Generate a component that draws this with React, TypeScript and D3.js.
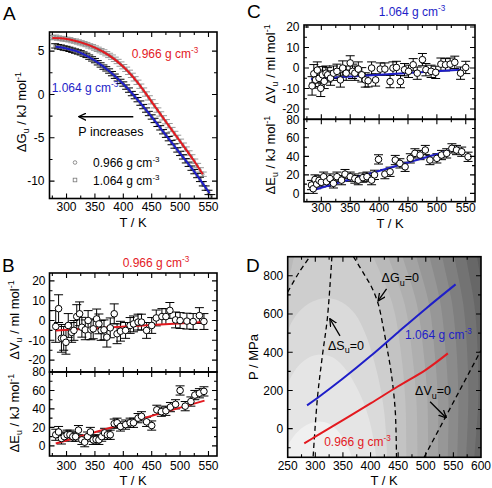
import React from "react";
import * as d3 from "d3";

const FONT = "'Liberation Sans', Arial, Helvetica, sans-serif";
const RED = "#e3191f";
const BLUE = "#1e1ec8";

// ---------------- Panel A : ΔGu vs T ----------------
const aRedT = [275,280,285,290,295,300,305,310,315,320,325,330,335,340,345,350,355,360,365,370,375,380,385,390,395,400,405,410,415,420,425,430,435,440,445,450,455,460,465,470,475,480,485,490,495,500,505,510,515,520,525,530,535,540];
const aRedG = [6.55,6.6,6.5,6.45,6.4,6.35,6.3,6.2,6.15,6.05,5.95,5.85,5.75,5.6,5.5,5.35,5.2,5.05,4.9,4.7,4.5,4.3,4.05,3.8,3.5,3.2,2.9,2.55,2.2,1.8,1.4,0.95,0.5,0.05,-0.4,-0.85,-1.3,-1.8,-2.25,-2.7,-3.15,-3.6,-4.05,-4.5,-4.95,-5.4,-5.85,-6.3,-6.75,-7.2,-7.7,-8.2,-8.7,-9.2];
const aBlueT = [280,285,290,295,300,305,310,315,320,325,330,335,340,345,350,355,360,365,370,375,380,385,390,395,400,405,410,415,420,425,430,435,440,445,450,455,460,465,470,475,480,485,490,495,500,505,510,515,520,525,530,535,540,545,550,555];
const aBlueG = [5.6,5.5,5.45,5.35,5.3,5.2,5.1,5.0,4.9,4.8,4.65,4.5,4.3,4.1,3.9,3.65,3.4,3.15,2.95,2.7,2.4,2.1,1.8,1.5,1.2,0.85,0.5,0.1,-0.25,-0.6,-1.0,-1.4,-1.8,-2.2,-2.6,-3.0,-3.45,-3.85,-4.3,-4.7,-5.1,-5.55,-5.95,-6.4,-6.8,-7.2,-7.65,-8.05,-8.5,-8.9,-9.35,-9.8,-10.3,-10.8,-11.3,-11.8];
const aErr = 0.25;
const aRedCurveT = [275,300,325,350,375,400,425,450,475,500,525,540];
const aRedCurveG = [6.5,6.4,6.0,5.4,4.5,3.2,1.4,-0.85,-3.15,-5.4,-7.7,-9.2];
const aBlueCurveT = [281,300,325,350,375,400,425,450,475,500,525,552];
const aBlueCurveG = [5.5,5.3,4.8,3.9,2.7,1.2,-0.6,-2.6,-4.7,-6.8,-8.9,-11.4];

// ---------------- Panel B : 0.966 g cm-3 ----------------
const bVT = [281,286,291,295,299,303,309,313,318,323,327,333,338,343,347,353,357,361,366,371,377,384,389,395,404,412,418,426,432,441,450,458,468,475,482,492,500,512,523,534,542];
const bVV = [-3,6,-9,-9,-11,-2.5,-6,-5,2,3.4,-3.4,-4.7,0,-4.7,-4.2,0.8,-1.7,-5,-4.7,-8.4,-3.7,3.4,-6.7,-5.4,-5,-2.5,-1.7,-0.8,-0.8,-5,-2.5,1.3,2,2,5.1,0.3,0,-0.3,-0.5,2.5,-0.5];
const bVErr = [8,7,7,6,6,6,5,5,6,6,5,5,5,5,5,5,5,5,5,5,5,5,5,5,4,4,4,4,4,4,4,4,4,4,4,4,4,4,4,4,4];
const bVLineT = [281,543];
const bVLineV = [-5,-0.8];
const bET = [281,286,291,296,301,306,311,316,321,327,332,337,342,347,352,357,362,367,372,377,384,389,395,404,412,418,426,432,441,450,459,467,475,483,492,500,509,519,526,534,542];
const bEE = [12,15,8,10,12,12,10,10,17,6.5,4,10,15,6.5,7,6.5,10,14,12,12,24,25,21,23,25,25,30,32,26,22,39,37,38,42,45,60,43,48,55,57,59];
const bEErr = [6,6,6,5,5,5,5,5,5,5,5,5,5,5,5,5,5,5,5,5,5,5,5,5,5,5,5,5,5,5,5,5,5,5,5,5,5,5,5,5,5];
const bELineT = [281,543];
const bELineE = [2.5,49];

// ---------------- Panel C : 1.064 g cm-3 ----------------
const cVT = [284,287,290,293,296,299,302,305,308,311,316,321,327,333,337,343,350,354,358,364,370,376,381,387,394,402,410,419,424,430,437,444,451,459,466,475,481,490,498,507,515,523,531,541,550];
const cVV = [-8.7,-2.8,-5.8,-1,-5,-9.9,-3.3,-6.5,-2.5,-3.3,-4.9,-2.5,-1.6,-5.8,0,-2.5,2.5,-1.6,-2.5,-0.5,-3.3,-5.8,-6.2,0,-5.8,-0.5,-0.5,-6.6,0,0.3,-6.6,-0.8,-1.6,1.6,-2.5,4.1,-0.8,-1.6,-2.1,1.9,1.6,1.9,2.8,-2.5,0.3];
const cVErr = [4.5,4.5,4,4,4,4,4,3.5,3.5,3.5,3.5,3.5,3.5,3.5,3.5,3.5,3.5,3.5,3.5,3.5,3.5,3.5,3,3,3,3,3,3,3,3,3,3,3,3,3,3,3,3,3,3,3,3,3,3,3];
const cVLineT = [282,541];
const cVLineV = [-5.4,-0.8];
const cET = [283,286,289,292,296,300,304,309,315,321,327,335,341,350,358,364,372,379,387,392,399,410,419,428,436,445,454,462,471,480,488,500,508,517,526,534,543,554];
const cEE = [9,5,15,10,14,12,18,12.6,16,10.8,18,14.3,20.8,18,16,14.3,17,18,14.3,20,36.7,20.8,23.3,36,32.4,28.7,37.8,43.2,41.4,46.8,36,37.8,41.4,43.2,48.6,46.8,45,39.5];
const cEErr = 5;
const cELineT = [282,538];
const cELineE = [2.8,49.3];

// ---------------- Panel D : phase diagram (T, P) ----------------
const dBlueT = [285,305,350,400,450,500,554];
const dBlueP = [122,163,262,380,505,628,755];
const dRedT = [280,300,350,400,450,500,540];
const dRedP = [-77,-42,45,132,222,308,394];
const dSzero = [[330,900],[322,583],[313,386],[304,166],[296,-150]];
const dVzero = [[497,-150],[600,410]];
const dGzeroLeft = [[250,715],[270,815],[290,900]];
const dGzeroRight = [[369,900],[388,810],[402,740],[414,652],[423,530],[430,420],[436,320],[441,211],[445,80],[447,-150]];
// contour band boundaries (outermost first)
const dArc13 = [[590,1000],[593,900],[607,650],[612,400],[612,150],[603,-150],[598,-300]];
const dArc12 = [[570,1000],[573,900],[588,650],[594,400],[595,150],[588,-150],[584,-300]];
const dArc11 = [[548,1000],[552,900],[568,650],[575,400],[577,150],[573,-150],[570,-300]];
const dArc10 = [[525,1000],[530,900],[548,650],[556,400],[559,150],[557,-150],[555,-300]];
const dArc9 = [[500,1000],[507,900],[527,650],[536,400],[541,150],[540,-150],[539,-300]];
const dArc8 = [[475,1000],[483,900],[506,650],[516,400],[522,150],[522,-150],[521,-300]];
const dArc7 = [[448,1000],[458,900],[484,650],[496,400],[503,150],[504,-150],[504,-300]];
const dArc6 = [[420,1000],[432,900],[462,650],[475,400],[483,150],[485,-150],[485,-300]];
const dArc5 = [[200,760],[250,800],[262,900],[280,1000],[390,1000],[405,900],[440,650],[455,400],[463,150],[465,-150],[466,-300]];
const dArcG0 = [[200,620],[240,660],[250,715],[270,815],[290,900],[310,950],[330,965],[352,950],[369,900],[388,810],[402,740],[414,652],[423,530],[430,420],[436,320],[441,211],[445,80],[447,-150],[448,-300]];
const dArc3 = [[200,420],[245,480],[255,545],[270,610],[295,665],[322,682],[348,662],[372,600],[390,500],[403,390],[416,240],[425,80],[430,-150],[431,-300]];
const dArc2 = [[200,150],[245,200],[255,265],[270,330],[290,375],[310,388],[332,372],[355,310],[375,215],[392,100],[403,-20],[410,-150],[412,-300]];
const dArc1 = [[200,-200],[240,-130],[250,-85],[265,-25],[285,20],[305,37],[325,25],[343,-20],[356,-80],[366,-150],[370,-300]];
const dBands = [dArc13, dArc12, dArc11, dArc10, dArc9, dArc8, dArc7, dArc6, dArc5, dArcG0, dArc3, dArc2, dArc1];
const dShades = ["#5c5c5c","#676767","#737373","#7f7f7f","#8b8b8b","#979797","#a3a3a3","#afafaf","#b9b9b9","#c3c3c3","#cecece","#dadada","#e5e5e5","#f0f0f0"];

const xMajor = [300,350,400,450,500,550];
const xMinor = [275,325,375,425,475,525];
const aYMajor = [-10,-5,0,5];
const aYMinor = [-7.5,-2.5,2.5];
const vYMajor = [-20,-10,0,10,20];
const vYMinor = [-15,-5,5,15];
const eYMajor = [0,20,40,60,80];
const eYMinor = [10,30,50,70];
const dXMajor = [250,300,350,400,450,500,550,600];
const dXMinor = [275,325,375,425,475,525,575];
const dYMajor = [0,200,400,600,800];
const dYMinor = [-100,100,300,500,700];

// ---------------- scales ----------------
const xAB = d3.scaleLinear().domain([270, 565]).range([49.5, 217]);
const yA = d3.scaleLinear().domain([-12, 7.2]).range([198.5, 32]);
const yBV = d3.scaleLinear().domain([-26, 24]).range([372, 273]);
const yBE = d3.scaleLinear().domain([-11, 80]).range([456, 372]);
const xC = d3.scaleLinear().domain([270, 566]).range([304, 475]);
const yCV = d3.scaleLinear().domain([-25, 21]).range([119.3, 25]);
const yCE = d3.scaleLinear().domain([-9, 80]).range([201.7, 119.3]);
const xD = d3.scaleLinear().domain([250, 600]).range([287.7, 481]);
const yD = d3.scaleLinear().domain([-150, 900]).range([457.3, 256.7]);

type Lin = d3.ScaleLinear<number, number>;

function Frame({ x, y, xMaj, xMin, yMaj, yMin }: { x: Lin; y: Lin; xMaj: number[]; xMin: number[]; yMaj: number[]; yMin: number[] }) {
  const [l, r] = x.range();
  const [b, t] = y.range();
  const M = 5, m = 3;
  const [dx0, dx1] = x.domain();
  const [dy0, dy1] = y.domain();
  const inX = (v: number) => v > dx0 && v < dx1;
  const inY = (v: number) => v > dy0 && v < dy1;
  let d = "";
  xMaj.filter(inX).forEach((v) => { const p = x(v); d += `M${p},${b}v${-M}M${p},${t}v${M}`; });
  xMin.filter(inX).forEach((v) => { const p = x(v); d += `M${p},${b}v${-m}M${p},${t}v${m}`; });
  yMaj.filter(inY).forEach((v) => { const p = y(v); d += `M${l},${p}h${M}M${r},${p}h${-M}`; });
  yMin.filter(inY).forEach((v) => { const p = y(v); d += `M${l},${p}h${m}M${r},${p}h${-m}`; });
  return (
    <g>
      <path d={d} stroke="#000" strokeWidth={1.1} fill="none" />
      <rect x={l} y={t} width={r - l} height={b - t} fill="none" stroke="#000" strokeWidth={1.6} />
    </g>
  );
}

function XLabels({ x, ticks, baseline }: { x: Lin; ticks: number[]; baseline: number }) {
  return (
    <g fontSize={12} textAnchor="middle">
      {ticks.map((v) => (
        <text key={v} x={x(v)} y={baseline}>{v}</text>
      ))}
    </g>
  );
}

function YLabels({ y, ticks, right }: { y: Lin; ticks: number[]; right: number }) {
  return (
    <g fontSize={12} textAnchor="end">
      {ticks.map((v) => (
        <text key={v} x={right} y={y(v)} dy="0.36em">{v}</text>
      ))}
    </g>
  );
}

function Density({ x, y, value, color, anchor = "start", size = 12 }: { x: number; y: number; value: string; color: string; anchor?: string; size?: number }) {
  return (
    <text x={x} y={y} fill={color} fontSize={size} textAnchor={anchor as any}>
      {value} g cm<tspan dy={-5} fontSize={size * 0.68}>-3</tspan>
    </text>
  );
}

function RotTitle({ x, y, sym, unit }: { x: number; y: number; sym: string; unit: string }) {
  return (
    <text transform={`translate(${x},${y}) rotate(-90)`} textAnchor="middle" fontSize={13}>
      Δ{sym}<tspan dy={3.5} fontSize={9}>u</tspan>
      <tspan dy={-3.5}>{` / ${unit} mol`}</tspan>
      <tspan dy={-5} fontSize={9}>-1</tspan>
    </text>
  );
}

function ErrBars({ x, y, ts, vs, errs, cap }: { x: Lin; y: Lin; ts: number[]; vs: number[]; errs: number[] | number; cap: number }) {
  let d = "";
  ts.forEach((t, i) => {
    const e = Array.isArray(errs) ? errs[i] : errs;
    const px = x(t);
    const y0 = y(vs[i] - e);
    const y1 = y(vs[i] + e);
    d += `M${px},${y0}V${y1}M${px - cap / 2},${y0}h${cap}M${px - cap / 2},${y1}h${cap}`;
  });
  return d;
}

function lineOf(x: Lin, y: Lin, ts: number[], vs: number[], curve: d3.CurveFactory = d3.curveLinear) {
  return d3.line<number>().x((t) => x(t)).y((_, i) => y(vs[i])).curve(curve)(ts) || "";
}

function ptsPath(pts: number[][], curve: d3.CurveFactory = d3.curveCatmullRom.alpha(0.5)) {
  return d3.line<number[]>().x((d) => xD(d[0])).y((d) => yD(d[1])).curve(curve)(pts) || "";
}

function Circles({ x, y, ts, vs, r }: { x: Lin; y: Lin; ts: number[]; vs: number[]; r: number }) {
  return (
    <g fill="#fff" stroke="#000" strokeWidth={1}>
      {ts.map((t, i) => <circle key={i} cx={x(t)} cy={y(vs[i])} r={r} />)}
    </g>
  );
}

function PanelA() {
  const [l, r] = xAB.range();
  const [b, t] = yA.range();
  return (
    <g>
      <defs>
        <clipPath id="clipA"><rect x={l} y={t} width={r - l} height={b - t} /></clipPath>
      </defs>
      <g clipPath="url(#clipA)">
        <path d={ErrBars({ x: xAB, y: yA, ts: aRedT, vs: aRedG, errs: aErr, cap: 8 })} stroke="#9a9a9a" strokeWidth={1} fill="none" />
        <path d={ErrBars({ x: xAB, y: yA, ts: aBlueT, vs: aBlueG, errs: aErr, cap: 8 })} stroke="#000" strokeWidth={1} fill="none" />
        <g fill="none" stroke="#777" strokeWidth={0.7}>
          {aRedT.map((tt, i) => <circle key={"c" + i} cx={xAB(tt)} cy={yA(aRedG[i])} r={1.3} />)}
          {aBlueT.map((tt, i) => <rect key={"s" + i} x={xAB(tt) - 1.3} y={yA(aBlueG[i]) - 1.3} width={2.6} height={2.6} />)}
        </g>
        <path d={lineOf(xAB, yA, aRedCurveT, aRedCurveG, d3.curveCatmullRom)} stroke={RED} strokeWidth={2} fill="none" />
        <path d={lineOf(xAB, yA, aBlueCurveT, aBlueCurveG, d3.curveCatmullRom)} stroke={BLUE} strokeWidth={2} fill="none" />
      </g>
      <Frame x={xAB} y={yA} xMaj={xMajor} xMin={xMinor} yMaj={aYMajor} yMin={aYMinor} />
      <XLabels x={xAB} ticks={xMajor} baseline={210.5} />
      <YLabels y={yA} ticks={aYMajor} right={44.5} />
      <text x={133} y={226.5} textAnchor="middle" fontSize={13}>T / K</text>
      <RotTitle x={25.5} y={112} sym="G" unit="kJ" />
      <Density x={131.7} y={58} value="0.966" color={RED} />
      <Density x={51.7} y={91.5} value="1.064" color={BLUE} />
      <line x1={133.3} y1={116.7} x2={79} y2={116.7} stroke="#000" strokeWidth={1.4} markerEnd="url(#arrowOpen)" />
      <text x={78.3} y={136} fontSize={12.5}>P increases</text>
      <circle cx={75} cy={162.5} r={1.8} fill="none" stroke="#777" strokeWidth={0.8} />
      <text x={93} y={167} fontSize={12}>0.966 g cm<tspan dy={-5} fontSize={8}>-3</tspan></text>
      <rect x={73.2} y={178.2} width={3.6} height={3.6} fill="none" stroke="#777" strokeWidth={0.8} />
      <text x={93} y={184.5} fontSize={12}>1.064 g cm<tspan dy={-5} fontSize={8}>-3</tspan></text>
      <text x={3} y={20} fontSize={19}>A</text>
    </g>
  );
}

function StackPanel({ x, yV, yE, vT, vV, vErr, vLineT, vLineV, eT, eE, eErr, eLineT, eLineE, color, yLabelRight, xBaseline, titleX, titleVY, titleEY, xTitleX }: any) {
  const [l, r] = x.range();
  const [bV, tV] = yV.range();
  const [bE, tE] = yE.range();
  const id = "clip" + Math.round(l);
  return (
    <g>
      <defs>
        <clipPath id={id + "v"}><rect x={l} y={tV} width={r - l} height={bV - tV} /></clipPath>
        <clipPath id={id + "e"}><rect x={l} y={tE} width={r - l} height={bE - tE} /></clipPath>
      </defs>
      <g clipPath={`url(#${id}v)`}>
        <path d={ErrBars({ x, y: yV, ts: vT, vs: vV, errs: vErr, cap: 9 })} stroke="#000" strokeWidth={1} fill="none" />
        <path d={lineOf(x, yV, vLineT, vLineV)} stroke={color} strokeWidth={2} fill="none" />
        <Circles x={x} y={yV} ts={vT} vs={vV} r={3.3} />
      </g>
      <g clipPath={`url(#${id}e)`}>
        <path d={ErrBars({ x, y: yE, ts: eT, vs: eE, errs: eErr, cap: 9 })} stroke="#000" strokeWidth={1} fill="none" />
        <path d={lineOf(x, yE, eLineT, eLineE)} stroke={color} strokeWidth={2} fill="none" />
        <Circles x={x} y={yE} ts={eT} vs={eE} r={3.3} />
      </g>
      <Frame x={x} y={yV} xMaj={xMajor} xMin={xMinor} yMaj={vYMajor} yMin={vYMinor} />
      <Frame x={x} y={yE} xMaj={xMajor} xMin={xMinor} yMaj={eYMajor} yMin={eYMinor} />
      <XLabels x={x} ticks={xMajor} baseline={xBaseline} />
      <YLabels y={yV} ticks={vYMajor} right={yLabelRight} />
      <YLabels y={yE} ticks={eYMajor.filter((v) => v < 80)} right={yLabelRight} />
      <text x={yLabelRight} y={yE(80)} dy="0.36em" fontSize={12} textAnchor="end">80</text>
      <text x={xTitleX} y={xBaseline + 15.5} textAnchor="middle" fontSize={13}>T / K</text>
      <RotTitle x={titleX} y={titleVY} sym="V" unit="ml" />
      <RotTitle x={titleX} y={titleEY} sym="E" unit="kJ" />
    </g>
  );
}

function PanelD() {
  const [l, r] = xD.range();
  const [b, t] = yD.range();
  const close = `L${xD(200)},${yD(-300)}L${xD(200)},${yD(1000)}Z`;
  const dash = "5,3.5";
  return (
    <g>
      <defs>
        <clipPath id="clipD"><rect x={l} y={t} width={r - l} height={b - t} /></clipPath>
      </defs>
      <g clipPath="url(#clipD)">
        <rect x={l} y={t} width={r - l} height={b - t} fill={dShades[0]} />
        {dBands.map((pts, i) => (
          <path key={i} d={ptsPath(pts) + close} fill={dShades[i + 1]} stroke="none" />
        ))}
        <g fill="none" stroke="#000" strokeWidth={1.3} strokeDasharray={dash}>
          <path d={ptsPath(dSzero)} />
          <path d={ptsPath(dVzero, d3.curveLinear)} />
          <path d={ptsPath(dGzeroLeft)} />
          <path d={ptsPath(dGzeroRight)} />
        </g>
        <path d={lineOf(xD, yD, dBlueT, dBlueP, d3.curveCatmullRom)} stroke={BLUE} strokeWidth={2} fill="none" />
        <path d={lineOf(xD, yD, dRedT, dRedP, d3.curveCatmullRom)} stroke={RED} strokeWidth={2} fill="none" />
      </g>
      <Frame x={xD} y={yD} xMaj={dXMajor} xMin={dXMinor} yMaj={dYMajor} yMin={dYMinor} />
      <g fontSize={12} textAnchor="middle">
        {dXMajor.map((v) => <text key={v} x={xD(v)} y={469.5}>{v}</text>)}
      </g>
      <YLabels y={yD} ticks={dYMajor} right={283.3} />
      <text x={384} y={484.5} textAnchor="middle" fontSize={13}>T / K</text>
      <text transform={`translate(257.5,357) rotate(-90)`} textAnchor="middle" fontSize={13}>P / MPa</text>
      {/* annotations */}
      <text x={xD(420)} y={yD(767)} fontSize={12.5}>ΔG<tspan dy={3.5} fontSize={9}>u</tspan><tspan dy={-3.5}>=0</tspan></text>
      <line x1={xD(429)} y1={yD(731)} x2={xD(414)} y2={yD(670)} stroke="#000" strokeWidth={1.3} markerEnd="url(#arrowOpen)" />
      <text x={xD(323)} y={yD(412)} fontSize={12.5}>ΔS<tspan dy={3.5} fontSize={9}>u</tspan><tspan dy={-3.5}>=0</tspan></text>
      <line x1={xD(344.7)} y1={yD(486)} x2={xD(326.6)} y2={yD(574)} stroke="#000" strokeWidth={1.3} markerEnd="url(#arrowOpen)" />
      <text x={xD(480.6)} y={yD(176)} fontSize={12.5}>ΔV<tspan dy={3.5} fontSize={9}>u</tspan><tspan dy={-3.5}>=0</tspan></text>
      <line x1={xD(507.8)} y1={yD(141)} x2={xD(536.8)} y2={yD(57)} stroke="#000" strokeWidth={1.3} markerEnd="url(#arrowOpen)" />
      <Density x={xD(462.5)} y={yD(469)} value="1.064" color={BLUE} />
      <Density x={xD(316)} y={yD(-91)} value="0.966" color={RED} />
      <text x={246} y={272} fontSize={19}>D</text>
    </g>
  );
}

export default function App() {
  return (
    <div style={{ position: "absolute", left: 0, top: 0 }}>
      <svg width={492} height={488} style={{ display: "block", background: "#fff" }} fontFamily={FONT}>
        <defs>
          <marker id="arrowOpen" viewBox="0 0 10 10" refX={9} refY={5} markerWidth={8} markerHeight={8} markerUnits="userSpaceOnUse" orient="auto">
            <path d="M0,0.5 L9.5,5 L0,9.5" fill="none" stroke="#000" strokeWidth={1.6} />
          </marker>
        </defs>
        <PanelA />
        <StackPanel x={xAB} yV={yBV} yE={yBE} vT={bVT} vV={bVV} vErr={bVErr} vLineT={bVLineT} vLineV={bVLineV}
          eT={bET} eE={bEE} eErr={bEErr} eLineT={bELineT} eLineE={bELineE} color={RED}
          yLabelRight={45.5} xBaseline={469.5} titleX={18.5} titleVY={320} titleEY={413} xTitleX={133} />
        <Density x={156} y={267} value="0.966" color={RED} anchor="middle" />
        <text x={2} y={272} fontSize={19}>B</text>
        <StackPanel x={xC} yV={yCV} yE={yCE} vT={cVT} vV={cVV} vErr={cVErr} vLineT={cVLineT} vLineV={cVLineV}
          eT={cET} eE={cEE} eErr={cEErr} eLineT={cELineT} eLineE={cELineE} color={BLUE}
          yLabelRight={299.5} xBaseline={212} titleX={274.5} titleVY={64} titleEY={155} xTitleX={390} />
        <Density x={412} y={16} value="1.064" color={BLUE} anchor="middle" />
        <text x={247} y={18} fontSize={19}>C</text>
        <PanelD />
      </svg>
    </div>
  );
}
